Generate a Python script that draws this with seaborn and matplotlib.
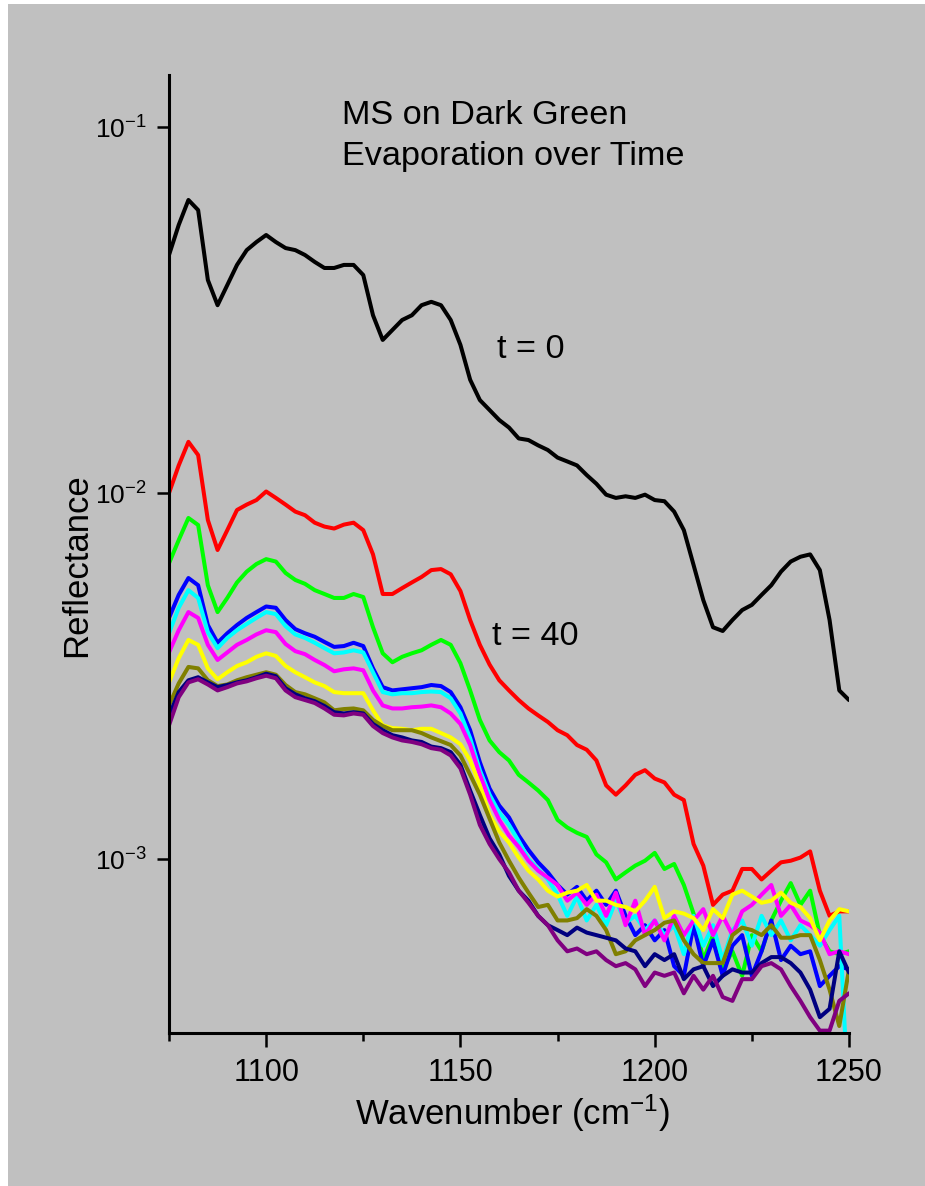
import numpy as np
import pandas as pd
import matplotlib
matplotlib.use("Agg")
import matplotlib.pyplot as plt
from matplotlib.patches import Rectangle
from matplotlib.ticker import FixedLocator, NullLocator, LogFormatterMathtext
import seaborn as sns

# Wavenumber grid (cm^-1)
wavenumber = [1075 + 2.5 * i for i in range(71)]

# Reflectance spectra recorded while the MS film evaporates (first trace t = 0, second t = 40)
refl_t0 = [0.0447, 0.054, 0.0632, 0.0593, 0.0382, 0.0326, 0.0370, 0.0420, 0.0461, 0.0485,
           0.0507, 0.0485, 0.0467, 0.0461, 0.0447, 0.0428, 0.0412, 0.0412, 0.0420, 0.0420,
           0.0394, 0.0306, 0.0262, 0.0279, 0.0297, 0.0306, 0.0326, 0.0333, 0.0326, 0.0297,
           0.0254, 0.0204, 0.01795, 0.01686, 0.01583, 0.0151, 0.0141, 0.01396, 0.0135, 0.01311,
           0.0125, 0.0122, 0.0119, 0.0112, 0.0106, 0.0099, 0.0097, 0.0098, 0.0097, 0.0099,
           0.00957, 0.0095, 0.0089, 0.00792, 0.00636, 0.0051, 0.0043, 0.0042, 0.0045, 0.00479,
           0.00495, 0.00527, 0.0056, 0.0061, 0.0065, 0.0067, 0.0068, 0.00616, 0.0045, 0.00289,
           0.00272]
refl_t40 = [0.0100, 0.0119, 0.0138, 0.0127, 0.00844, 0.00699, 0.00792, 0.00899, 0.0093, 0.00957,
            0.0101, 0.0097, 0.0093, 0.0089, 0.0087, 0.0083, 0.0081, 0.0080, 0.0082, 0.0083,
            0.00792, 0.0068, 0.0053, 0.0053, 0.0055, 0.0057, 0.0059, 0.00616, 0.0062, 0.0060,
            0.0054, 0.0045, 0.00385, 0.0034, 0.00308, 0.00289, 0.00272, 0.00258, 0.00247, 0.00237,
            0.00225, 0.00218, 0.00205, 0.00199, 0.00186, 0.00159, 0.0015, 0.00159, 0.0017, 0.00175,
            0.00166, 0.00162, 0.0015, 0.00145, 0.0011, 0.00096, 0.00075, 0.0008, 0.00082, 0.00094,
            0.00094, 0.00088, 0.00093, 0.00098, 0.00099, 0.00101, 0.00105, 0.00082, 0.0007, 0.00072,
            0.00072]
refl_3 = [0.00643, 0.00744, 0.00855, 0.00818, 0.0056, 0.00473, 0.00517, 0.0057, 0.0061, 0.0064,
          0.0066, 0.0065, 0.00605, 0.00579, 0.00565, 0.00543, 0.0053, 0.00517, 0.00517, 0.0053,
          0.0052, 0.0043, 0.00365, 0.00345, 0.00357, 0.00365, 0.00372, 0.00385, 0.00397, 0.00385,
          0.00343, 0.00289, 0.0024, 0.00211, 0.00196, 0.00186, 0.0017, 0.00162, 0.00154, 0.00145,
          0.00128, 0.00122, 0.00118, 0.00115, 0.00103, 0.00098, 0.00088, 0.00092, 0.00096, 0.00099,
          0.00104, 0.00094, 0.00097, 0.00085, 0.00071, 0.00053, 0.00062, 0.0005, 0.00056, 0.00048,
          0.00062, 0.00056, 0.00068, 0.00077, 0.00086, 0.00075, 0.00082, 0.00062, 0.00056, 0.00055,
          0.00056]
refl_4 = [0.00456, 0.00527, 0.00586, 0.0056, 0.00436, 0.0039, 0.00414, 0.00436, 0.00456, 0.00473,
          0.0049, 0.00486, 0.0045, 0.00425, 0.00414, 0.00405, 0.00392, 0.0038, 0.00382, 0.0039,
          0.00382, 0.00332, 0.00295, 0.00289, 0.00291, 0.00293, 0.00295, 0.00299, 0.00297, 0.00286,
          0.0026, 0.00225, 0.00184, 0.00156, 0.0014, 0.0013, 0.00116, 0.00106, 0.00098, 0.00092,
          0.00085, 0.0008, 0.00084, 0.00077, 0.00082, 0.00075, 0.00082, 0.0007, 0.00062, 0.00066,
          0.0006, 0.00064, 0.00051, 0.00048, 0.00066, 0.00051, 0.0006, 0.00048, 0.00058, 0.00062,
          0.00048, 0.00056, 0.00068, 0.00053, 0.00058, 0.00055, 0.00056, 0.00045, 0.00048, 0.00051,
          0.0005]
refl_5 = [0.00414, 0.00486, 0.00543, 0.00517, 0.00417, 0.00377, 0.00402, 0.00422, 0.00439, 0.00456,
          0.00473, 0.00467, 0.00433, 0.00411, 0.00402, 0.0039, 0.00377, 0.00365, 0.00367, 0.00372,
          0.00367, 0.00324, 0.00286, 0.00282, 0.00284, 0.00284, 0.00286, 0.00287, 0.00286, 0.00275,
          0.0025, 0.00214, 0.00175, 0.0015, 0.00134, 0.00124, 0.00112, 0.001, 0.00094, 0.00088,
          0.0008, 0.0007, 0.00079, 0.00068, 0.00075, 0.00066, 0.00077, 0.00067, 0.0007, 0.00064,
          0.00068, 0.00062, 0.00066, 0.00055, 0.0007, 0.00058, 0.00066, 0.00053, 0.00064, 0.00068,
          0.00058, 0.0007, 0.00062, 0.00068, 0.0006, 0.00066, 0.00062, 0.00058, 0.00064, 0.0007,
          0.0002]
refl_6 = [0.00367, 0.00422, 0.00473, 0.00456, 0.00385, 0.0035, 0.00367, 0.00385, 0.00397, 0.00411,
          0.00422, 0.00417, 0.00387, 0.0037, 0.00363, 0.0035, 0.00339, 0.00326, 0.0033, 0.00332,
          0.00328, 0.00289, 0.00263, 0.00258, 0.00258, 0.0026, 0.00261, 0.00263, 0.0026, 0.0025,
          0.00234, 0.00205, 0.0017, 0.00145, 0.00128, 0.00116, 0.00108, 0.00099, 0.00093, 0.00089,
          0.00085, 0.00077, 0.00081, 0.00075, 0.0008, 0.0007, 0.00081, 0.00066, 0.00077, 0.00062,
          0.00068, 0.0006, 0.0007, 0.00062, 0.00068, 0.00073, 0.00062, 0.0007, 0.00062, 0.00072,
          0.00075, 0.0008, 0.00085, 0.0007, 0.00075, 0.00068, 0.00066, 0.00063, 0.00055, 0.00056,
          0.00055]
refl_7 = [0.00304, 0.00354, 0.00397, 0.00385, 0.00332, 0.0031, 0.00324, 0.00337, 0.00345, 0.00357,
          0.00365, 0.00359, 0.00337, 0.00324, 0.00314, 0.00304, 0.00297, 0.00286, 0.00284, 0.00284,
          0.00284, 0.00255, 0.00232, 0.00228, 0.00227, 0.00225, 0.00227, 0.00227, 0.00221, 0.00215,
          0.00206, 0.00186, 0.00159, 0.00132, 0.00119, 0.00111, 0.00101, 0.00093, 0.00088, 0.00082,
          0.00079, 0.00081, 0.00082, 0.00085, 0.00077, 0.00077, 0.00075, 0.00074, 0.00072, 0.00077,
          0.00084, 0.00069, 0.00072, 0.00071, 0.00069, 0.00064, 0.00073, 0.00069, 0.0008, 0.00082,
          0.00079, 0.00076, 0.00077, 0.00081, 0.00076, 0.00074, 0.00069, 0.0006, 0.00068, 0.00073,
          0.00072]
refl_8 = [0.00263, 0.00302, 0.00335, 0.00332, 0.00308, 0.00297, 0.003, 0.00308, 0.00314, 0.00319,
          0.00324, 0.00319, 0.00299, 0.00286, 0.00282, 0.00275, 0.00268, 0.00255, 0.00257, 0.00258,
          0.00255, 0.0024, 0.00231, 0.00225, 0.00225, 0.00225, 0.00221, 0.00215, 0.0021, 0.00205,
          0.00192, 0.0017, 0.0015, 0.00129, 0.00111, 0.00099, 0.00089, 0.00081, 0.00074, 0.00075,
          0.00068, 0.00068, 0.00069, 0.00073, 0.0007, 0.00064, 0.00055, 0.00056, 0.0006, 0.00062,
          0.00064, 0.00067, 0.00068, 0.0006, 0.00055, 0.00052, 0.00052, 0.00052, 0.00062, 0.00065,
          0.00064, 0.00062, 0.00066, 0.00061, 0.00061, 0.00062, 0.00062, 0.00053, 0.00044, 0.00035,
          0.0005]
refl_9 = [0.00246, 0.00286, 0.00308, 0.00314, 0.00304, 0.00295, 0.00299, 0.00304, 0.00308, 0.00314,
          0.00321, 0.00316, 0.00293, 0.00282, 0.00275, 0.0027, 0.00262, 0.00252, 0.0025, 0.00252,
          0.0025, 0.00234, 0.00225, 0.00218, 0.00215, 0.00211, 0.00209, 0.00203, 0.00201, 0.00196,
          0.00181, 0.00154, 0.00132, 0.00114, 0.00103, 0.0009, 0.00082, 0.00077, 0.0007, 0.00066,
          0.00064, 0.00062, 0.00065, 0.00063, 0.00062, 0.00061, 0.0006, 0.00057, 0.00056, 0.00051,
          0.00055, 0.00053, 0.00055, 0.00047, 0.0005, 0.00051, 0.00045, 0.00048, 0.0005, 0.00049,
          0.00049, 0.00052, 0.00054, 0.00054, 0.00052, 0.00049, 0.00044, 0.00037, 0.00039, 0.00056,
          0.00049]
refl_10 = [0.00232, 0.00277, 0.00304, 0.0031, 0.003, 0.00289, 0.00295, 0.00302, 0.00306, 0.00312,
           0.00317, 0.00312, 0.00289, 0.00277, 0.00272, 0.00267, 0.00258, 0.00248, 0.00247, 0.0025,
           0.00248, 0.00231, 0.00221, 0.00215, 0.00211, 0.00209, 0.00206, 0.00201, 0.00199, 0.00192,
           0.00177, 0.0015, 0.00124, 0.0011, 0.001, 0.00092, 0.00082, 0.00076, 0.0007, 0.00066,
           0.0006, 0.00056, 0.00057, 0.00055, 0.00056, 0.00053, 0.00051, 0.00052, 0.0005, 0.00045,
           0.00049, 0.00048, 0.00049, 0.00043, 0.00048, 0.00044, 0.00048, 0.00042, 0.00041, 0.00047,
           0.00047, 0.00051, 0.00052, 0.0005, 0.00045, 0.00041, 0.00037, 0.00034, 0.00034, 0.00041,
           0.00043]

series_names = ["t = 0", "t = 40", "s3", "s4", "s5", "s6", "s7", "s8", "s9", "s10"]
series_values = [refl_t0, refl_t40, refl_3, refl_4, refl_5, refl_6, refl_7, refl_8, refl_9, refl_10]
series_colors = ["#000000", "#ff0000", "#00ff00", "#0000ff", "#00ffff",
                 "#ff00ff", "#ffff00", "#808000", "#000080", "#800080"]

frames = [pd.DataFrame({"wavenumber": wavenumber, "reflectance": vals, "trace": name})
          for name, vals in zip(series_names, series_values)]
df = pd.concat(frames, ignore_index=True)

sns.set_style("ticks")
plt.rcParams["font.family"] = ["Liberation Sans", "DejaVu Sans"]
plt.rcParams["mathtext.fontset"] = "custom"
plt.rcParams["mathtext.rm"] = "Liberation Sans"
plt.rcParams["mathtext.it"] = "Liberation Sans:italic"
plt.rcParams["mathtext.bf"] = "Liberation Sans:bold"
plt.rcParams["axes.unicode_minus"] = False
plt.rcParams["text.color"] = "black"
plt.rcParams["axes.labelcolor"] = "black"
plt.rcParams["xtick.color"] = "black"
plt.rcParams["ytick.color"] = "black"

W, H = 925, 1186
bg = "#c0c0c0"
fig = plt.figure(figsize=(W / 100, H / 100), dpi=100, facecolor=bg)

def fx(px):
    return px / W

def fy(py):
    return 1 - py / H

# thin white margin along the left and top edges
fig.patches.append(Rectangle((0, 0), fx(8), 1, transform=fig.transFigure,
                             facecolor="white", edgecolor="none", zorder=0))
fig.patches.append(Rectangle((0, fy(4)), 1, 1 - fy(4), transform=fig.transFigure,
                             facecolor="white", edgecolor="none", zorder=0))

ax = fig.add_axes([fx(169), fy(1033), fx(849) - fx(169), fy(75) - fy(1033)])
ax.set_facecolor(bg)
ax.set_yscale("log")

sns.lineplot(data=df, x="wavenumber", y="reflectance", hue="trace",
             hue_order=series_names, palette=series_colors, estimator=None,
             linewidth=2.9, legend=False, ax=ax)

ax.set_xlim(1075, 1250)
ax.set_ylim(3.35e-4, 0.1387)

ax.xaxis.set_major_locator(FixedLocator([1100, 1150, 1200, 1250]))
ax.xaxis.set_minor_locator(FixedLocator([1075, 1125, 1175, 1225]))
ax.yaxis.set_major_locator(FixedLocator([1e-3, 1e-2, 1e-1]))
ax.yaxis.set_major_formatter(LogFormatterMathtext())
ax.yaxis.set_minor_locator(NullLocator())

for side in ["top", "right"]:
    ax.spines[side].set_visible(False)
for side in ["left", "bottom"]:
    ax.spines[side].set_linewidth(2.2)
    ax.spines[side].set_color("black")

ax.tick_params(axis="x", which="major", direction="out", length=10, width=1.8,
               labelsize=22, pad=8, colors="black")
ax.tick_params(axis="x", which="minor", direction="out", length=6, width=1.8)
ax.tick_params(axis="y", which="major", direction="out", length=9, width=1.8,
               labelsize=19, pad=7, colors="black")

ax.set_xlabel(r"Wavenumber (cm$^{-1}$)", fontsize=25, color="black")
ax.set_ylabel("Reflectance", fontsize=25, color="black")
ax.xaxis.set_label_coords(0.505, -0.0835)
ax.xaxis.label.set_va("center")
ax.yaxis.set_label_coords(-0.136, 0.4885)
ax.yaxis.label.set_va("center")

fig.text(fx(342), fy(124), "MS on Dark Green", fontsize=24.7, va="baseline", ha="left",
         color="black")
fig.text(fx(342), fy(165), "Evaporation over Time", fontsize=24.7, va="baseline", ha="left",
         color="black")

ax.text(1159.4, 0.0246, "t = 0", fontsize=24.7, va="center", ha="left", color="black")
ax.text(1158.1, 0.00406, "t = 40", fontsize=24.7, va="center", ha="left", color="black")

fig.savefig("out.png", dpi=100, facecolor=fig.get_facecolor())
